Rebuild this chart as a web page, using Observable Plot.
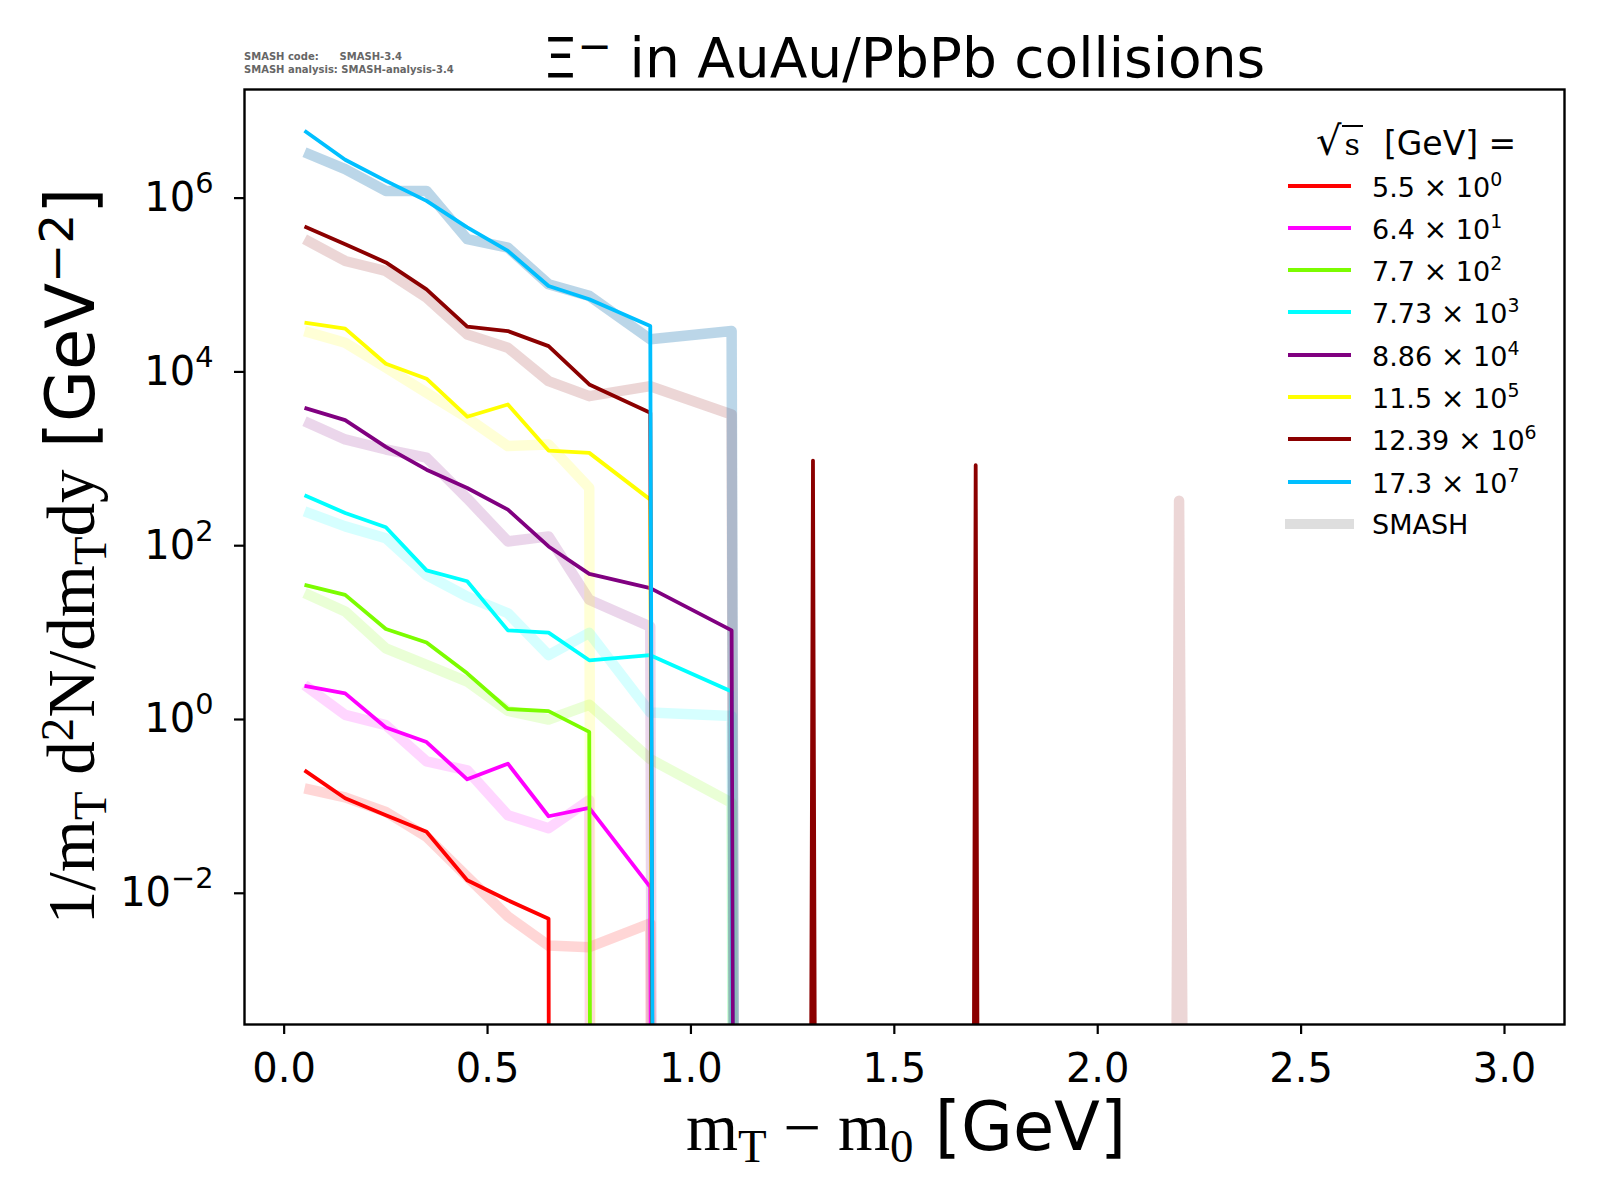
<!DOCTYPE html>
<html>
<head>
<meta charset="utf-8">
<script src="https://cdn.jsdelivr.net/npm/d3@7"></script>
<script src="https://cdn.jsdelivr.net/npm/@observablehq/plot@0.6"></script>
<style>
  body { margin: 0; background: #fff; }
  #wrap { position: relative; width: 1600px; height: 1200px; font-family: "DejaVu Sans", sans-serif; color: #000; overflow: hidden; }
  .abs { position: absolute; white-space: pre; line-height: 1; }
  .serif { font-family: "Liberation Serif", "DejaVu Serif", serif; }
  .sub { font-size: 0.7em; vertical-align: -0.25em; }
  .sup { font-size: 0.7em; vertical-align: 0.45em; }
</style>
</head>
<body>
<div id="wrap"></div>
<script>
// ---- data ----
const xs = [0.05, 0.15, 0.25, 0.35, 0.45, 0.55, 0.65, 0.75, 0.9, 1.1, 1.3, 1.5, 1.7, 1.9, 2.2, 2.6, 3.0];

const energyMantissa = ["5.5", "6.4", "7.7", "7.73", "8.86", "11.5", "12.39", "17.3"];
const energyExponent = ["0", "1", "2", "3", "4", "5", "6", "7"];
const lineColors  = ["#ff0000", "#ff00ff", "#7cfc00", "#00ffff", "#800080", "#ffff00", "#8b0000", "#00bfff"];
const smashColors = ["#ff0000", "#ff00ff", "#7cfc00", "#00ffff", "#800080", "#ffff00", "#8b0000", "#1f77b4"];
const smashAlpha  = [0.16, 0.16, 0.16, 0.16, 0.16, 0.16, 0.16, 0.3];

// scaled spectra (0 = empty bin)
const main5_5   = [0.26, 0.124, 0.079, 0.051, 0.0141, 0.0083, 0.0051, 0, 0, 0, 0, 0, 0, 0, 0, 0, 0];
const main6_4   = [2.44, 2.0, 0.81, 0.55, 0.205, 0.31, 0.077, 0.096, 0.0118, 0, 0, 0, 0, 0, 0, 0, 0];
const main7_7   = [35.5, 27.2, 11.0, 7.7, 3.4, 1.32, 1.25, 0.72, 0, 0, 0, 0, 0, 0, 0, 0, 0];
const main7_73  = [380, 238, 163, 52, 39, 10.6, 10.0, 4.8, 5.5, 2.1, 0, 0, 0, 0, 0, 0, 0];
const main8_86  = [3860, 2790, 1370, 750, 462, 260, 98, 47.5, 32.5, 10.6, 0, 0, 0, 0, 0, 0, 0];
const main11_5  = [36900, 31500, 12400, 8360, 3050, 4220, 1245, 1170, 339, 0, 0, 0, 0, 0, 0, 0, 0];
const main12_39 = [472000, 295000, 182000, 89000, 33200, 29500, 19800, 7180, 3390, 0, 955, 0, 845, 0, 0, 0, 0];
const main17_3  = [5.97e6, 2.76e6, 1.58e6, 9.3e5, 4.6e5, 2.47e5, 9.75e4, 6.85e4, 3.37e4, 0, 0, 0, 0, 0, 0, 0, 0];

const smash5_5   = [0.161, 0.127, 0.0865, 0.0447, 0.0155, 0.0054, 0.0025, 0.0024, 0.0045, 0, 0, 0, 0, 0, 0, 0, 0];
const smash6_4   = [2.5, 1.13, 0.86, 0.33, 0.26, 0.079, 0.056, 0.118, 0, 0, 0, 0, 0, 0, 0, 0, 0];
const smash7_7   = [28.5, 17.5, 6.6, 4.25, 2.73, 1.26, 1.0, 1.48, 0.35, 0.11, 0, 0, 0, 0, 0, 0, 0];
const smash7_73  = [248, 167, 122, 46, 26, 16.7, 5.5, 9.9, 1.2, 1.1, 0, 0, 0, 0, 0, 0, 0];
const smash8_86  = [2710, 1670, 1280, 1030, 350, 112, 128, 23.9, 11.7, 0, 0, 0, 0, 0, 0, 0, 0];
const smash11_5  = [29500, 21700, 11200, 5750, 2960, 1400, 1460, 462, 0, 0, 0, 0, 0, 0, 0, 0, 0];
const smash12_39 = [337000, 189000, 145000, 71600, 27000, 19000, 7830, 5260, 6850, 3240, 0, 0, 0, 0, 330, 0, 0];
const smash17_3  = [3.37e6, 2.16e6, 1.21e6, 1.21e6, 3.37e5, 2.69e5, 1.02e5, 7.5e4, 2.37e4, 2.95e4, 0, 0, 0, 0, 0, 0, 0];

const yTicks = [1e-2, 1, 1e2, 1e4, 1e6];
const xTicks = [0, 0.5, 1.0, 1.5, 2.0, 2.5, 3.0];

const mainSeries  = [main5_5, main6_4, main7_7, main7_73, main8_86, main11_5, main12_39, main17_3];
const smashSeries = [smash5_5, smash6_4, smash7_7, smash7_73, smash8_86, smash11_5, smash12_39, smash17_3];

// non-positive values are clipped to a tiny positive number on the log axis (as matplotlib does)
const rows = vals => xs.map((x, j) => ({x, y: vals[j] > 0 ? vals[j] : 1e-300}));

const powFmt = d => "10^" + String(Math.round(Math.log10(d))).replace("-", "−");

const W = 1600, H = 1200;
const chart = Plot.plot({
  width: W, height: H,
  marginLeft: 244, marginRight: 36, marginTop: 89, marginBottom: 176,
  style: {fontFamily: "DejaVu Sans", fontSize: "40px", color: "#000", background: "#fff"},
  x: {domain: [-0.0975, 3.1475]},
  y: {type: "log", domain: [Math.pow(10, -3.51), Math.pow(10, 7.25)]},
  marks: [
    ...smashSeries.map((v, i) => Plot.line(rows(v), {
      x: "x", y: "y", stroke: smashColors[i], strokeOpacity: smashAlpha[i],
      strokeWidth: 10.5, strokeLinejoin: "round", strokeLinecap: "butt", clip: true
    })),
    ...mainSeries.map((v, i) => Plot.line(rows(v), {
      x: "x", y: "y", stroke: lineColors[i],
      strokeWidth: 3.8, strokeLinejoin: "round", strokeLinecap: "butt", clip: true
    })),
    Plot.frame({stroke: "#000", strokeWidth: 2.4}),
    Plot.axisX({ticks: xTicks, tickFormat: d3.format(".1f"), tickSize: 10, tickPadding: 19, strokeWidth: 2.2, label: null}),
    Plot.axisY({ticks: yTicks, tickFormat: powFmt, tickSize: 10, tickPadding: 21, strokeWidth: 2.2, label: null})
  ]
});
const wrap = document.getElementById("wrap");
wrap.appendChild(chart);

// turn "10^k" tick labels into 10 with a real superscript
d3.select(chart).selectAll("text").each(function () {
  const t = this.textContent;
  if (t.indexOf("^") < 0) return;
  const [base, exp] = t.split("^");
  const sel = d3.select(this);
  sel.text(base);
  sel.append("tspan").attr("dy", "-0.62em").attr("font-size", "0.72em").text(exp);
});

function addDiv(html, css) {
  const d = document.createElement("div");
  d.className = "abs";
  d.innerHTML = html;
  Object.assign(d.style, css);
  wrap.appendChild(d);
  return d;
}

// run info
addDiv("SMASH code:      SMASH-3.4\nSMASH analysis: SMASH-analysis-3.4",
  {left: "244px", top: "50px", fontSize: "10px", lineHeight: "13px", color: "#666", fontWeight: "bold"});

// title
addDiv('Ξ<span class="sup" style="font-size:0.75em;vertical-align:0.4em">−</span> in AuAu/PbPb collisions',
  {left: "241px", width: "1326px", top: "26px", fontSize: "55px", textAlign: "center"});

// x label
addDiv('<span class="serif">m<span class="sub">T</span> − m<span class="sub">0</span></span> [GeV]',
  {left: "906px", top: "1094px", fontSize: "67px", transform: "translateX(-50%)"});

// y label
addDiv('<span class="serif">1/m<span class="sub">T</span> d<span class="sup">2</span>N/dm<span class="sub">T</span>dy</span> [GeV<span class="sup">−2</span>]',
  {left: "74px", top: "556px", fontSize: "67px", transform: "translate(-50%,-50%) rotate(-90deg)"});

// legend
addDiv('<span style="font-family:\'DejaVu Serif\';font-size:40px">√<span style="border-top:2px solid #000;padding:0 3px;font-size:30px">s</span></span>  [GeV] =',
  {left: "1316px", top: "141px", fontSize: "33px", transform: "translateY(-50%)"});
const legY0 = 185.5, legDy = 42.3;
energyMantissa.forEach((m, i) => {
  const yc = legY0 + i * legDy;
  addDiv("", {left: "1288px", top: (yc - 2) + "px", width: "63px", height: "4px", background: lineColors[i]});
  addDiv(m + ' <span style="font-size:1.05em">×</span> 10<span class="sup" style="vertical-align:0.55em">' + energyExponent[i] + '</span>',
    {left: "1372px", top: yc + "px", fontSize: "27px", transform: "translateY(-50%)"});
});
{
  const yc = legY0 + 8 * legDy;
  addDiv("", {left: "1285px", top: (yc - 5) + "px", width: "69px", height: "10px", background: "#dedede"});
  addDiv("SMASH", {left: "1372px", top: yc + "px", fontSize: "27px", transform: "translateY(-50%)"});
}
</script>
</body>
</html>
